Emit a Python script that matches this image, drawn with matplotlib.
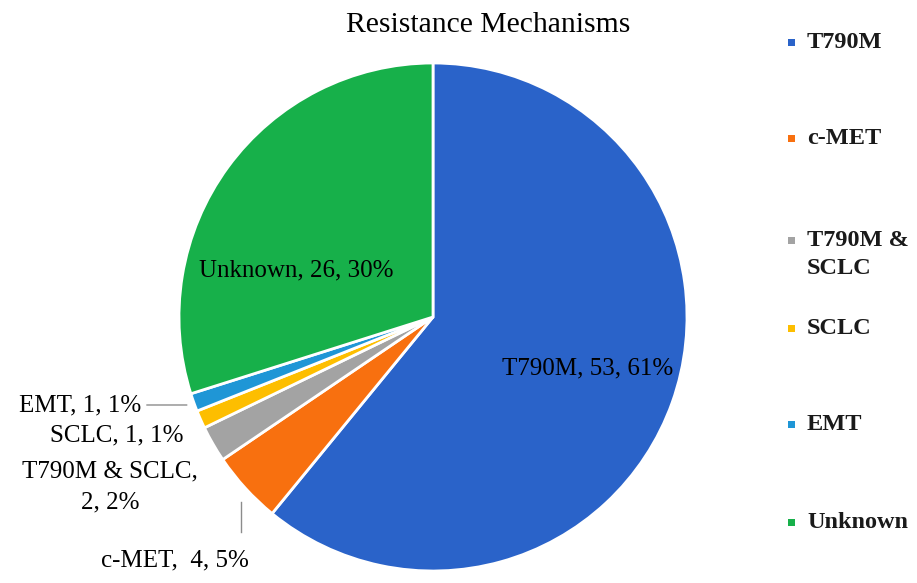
import numpy as np
import matplotlib.pyplot as plt

plt.rcParams['font.family'] = ['Liberation Serif', 'DejaVu Serif']

mechanisms = ["T790M", "c-MET", "T790M & SCLC", "SCLC", "EMT", "Unknown"]
patients = [53, 4, 2, 1, 1, 26]
legend_names = ["T790M", "c-MET", "T790M &\nSCLC", "SCLC", "EMT", "Unknown"]
colors = ["#2A63C9", "#F8700F", "#A3A3A3", "#FDBE00", "#1F96D6", "#17B04A"]

W, H = 917, 583
fig = plt.figure(figsize=(W / 100, H / 100), dpi=100)

# pie centred at (433, 317) px with radius 254 px
cx, cy, r = 433, 317, 254
ax = fig.add_axes([(cx - r) / W, (H - cy - r) / H, 2 * r / W, 2 * r / H])
wedges, _ = ax.pie(patients, colors=colors, startangle=90, counterclock=False,
                   wedgeprops=dict(edgecolor='white', linewidth=2))
ax.set_xlim(-1, 1)
ax.set_ylim(-1, 1)
ax.set_aspect('equal')
ax.axis('off')

total = sum(patients)
texts = [f"{m}, {v}, {round(100 * v / total)}%" for m, v in zip(mechanisms, patients)]
texts[1] = f"c-MET,  {patients[1]}, {round(100 * patients[1] / total)}%"
texts[2] = f"T790M & SCLC,\n{patients[2]}, {round(100 * patients[2] / total)}%"


def px(x, y):
    return (x - cx) / r, (cy - y) / r


fs = 18
# inside labels
ax.text(*px(588, 368), texts[0], ha='center', va='center', fontsize=fs)
ax.text(*px(296, 270), texts[5], ha='center', va='center', fontsize=fs)
# outside labels
ax.text(*px(141, 405), texts[4], ha='right', va='center', fontsize=fs)
ax.text(*px(184, 435), texts[3], ha='right', va='center', fontsize=fs)
ax.text(*px(110, 487), texts[2], ha='center', va='center', fontsize=fs,
        multialignment='center', linespacing=1.5)
ax.text(*px(249, 560), texts[1], ha='right', va='center', fontsize=fs)

# leader lines
emt = wedges[4]
mid = np.deg2rad((emt.theta1 + emt.theta2) / 2)
ax.plot([px(147, 405)[0], 1.03 * np.cos(mid)], [px(147, 405)[1], 1.03 * np.sin(mid)],
        color='#8c8c8c', lw=1, clip_on=False)
ax.plot([px(241, 502)[0], px(241, 532)[0]], [px(241, 502)[1], px(241, 532)[1]],
        color='#8c8c8c', lw=1, clip_on=False)

fig.text(488 / W, 1 - 25 / H, "Resistance Mechanisms", ha='center', va='center',
         fontsize=21.3)

# legend drawn by hand, Excel style
leg_y = [42, 138, 240, 328, 424, 522]
for name, col, y in zip(legend_names, colors, leg_y):
    fig.patches.append(plt.Rectangle(((791 - 3.5) / W, 1 - (y + 3.5) / H), 7 / W, 7 / H,
                                     transform=fig.transFigure, facecolor=col,
                                     edgecolor='none'))
    for i, line in enumerate(name.split('\n')):
        fig.text(807 / W, 1 - (y + 28 * i) / H, line, ha='left', va='center',
                 fontsize=17.5, fontweight='bold', color='#1a1a1a')

fig.savefig("out.png", dpi=100)
